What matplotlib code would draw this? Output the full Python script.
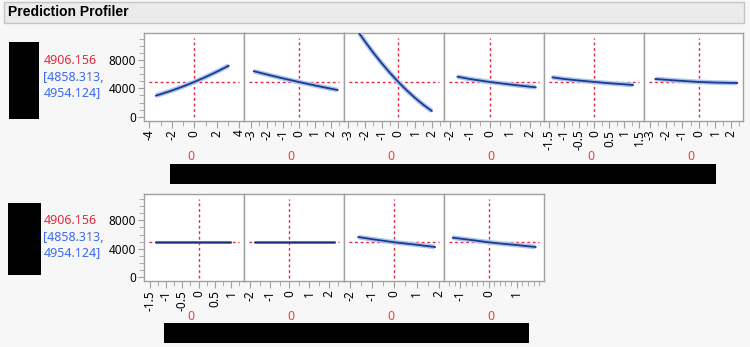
import matplotlib
matplotlib.use("Agg")
import matplotlib.pyplot as plt
from matplotlib.patches import Rectangle
from matplotlib.ticker import MultipleLocator, FixedLocator

plt.rcParams['font.family'] = ['Noto Sans', 'DejaVu Sans']

# readout of the predicted response and its interval
pred_value = "4906.156"
pred_ci = ["[4858.313,", "4954.124]"]
current_level = 4906.156
factor_settings = ["0", "0", "0", "0", "0", "0"]
factor_settings_2 = ["0", "0", "0", "0"]

# top row profiles (x, y)
top_x1 = [-3.4, -2, -1, 0, 1, 2, 3.05]
top_y1 = [2970, 3687, 4268, 4906, 5600, 6351, 7200]
top_x2 = [-2.8, -2, -1, 0, 1, 2, 2.43]
top_y2 = [6420, 5965, 5421, 4906, 4419, 3959, 3770]
top_x3 = [-2.5, -2, -1.5, -1, -0.5, 0, 0.5, 1, 1.5, 2]
top_y3 = [12337, 10646, 9057, 7571, 6187, 4906, 3727, 2651, 1676, 805]
top_x4 = [-1.6, -1, 0, 1, 2, 2.31]
top_y4 = [5650, 5330, 4906, 4560, 4240, 4150]
top_x5 = [-1.4, -1, -0.5, 0, 0.5, 1, 1.28]
top_y5 = [5560, 5320, 5100, 4906, 4720, 4570, 4480]
top_x6 = [-2.66, -2, -1, 0, 1, 2, 2.36]
top_y6 = [5330, 5210, 5050, 4906, 4820, 4770, 4760]

# bottom row profiles (x, y)
bot_x1 = [-1.34, 0, 1.0]
bot_y1 = [4906, 4906, 4906]
bot_x2 = [-1.81, 0, 2.33]
bot_y2 = [4906, 4906, 4906]
bot_x3 = [-1.61, -1, 0, 1, 1.82]
bot_y3 = [5650, 5350, 4906, 4560, 4240]
bot_x4 = [-1.27, -0.5, 0, 0.5, 1, 1.67]
bot_y4 = [5560, 5170, 4906, 4700, 4520, 4240]

# axis ranges / ticks per panel
top_xlims = [(-4.44, 4.44), (-3.4, 2.85), (-3.23, 2.75), (-2.26, 2.74), (-1.67, 1.66), (-3.34, 2.72)]
top_major = [[-4, -2, 0, 2, 4], [-3, -2, -1, 0, 1, 2], [-3, -2, -1, 0, 1, 2],
             [-2, -1, 0, 1, 2], [-1.5, -1, -0.5, 0, 0.5, 1, 1.5], [-3, -2, -1, 0, 1, 2]]
top_minor = [1, 0.5, 0.5, 0.5, 0.25, 0.5]
bot_xlims = [(-1.66, 1.40), (-2.30, 2.80), (-2.24, 2.24), (-1.57, 1.98)]
bot_major = [[-1.5, -1, -0.5, 0, 0.5, 1], [-2, -1, 0, 1, 2], [-2, -1, 0, 1, 2], [-1, 0, 1]]
bot_minor = [0.25, 0.5, 0.5, 0.2]
y_ticks = [0, 4000, 8000]
y_lim = (-570, 11780)

W, H = 750, 347
BG = "#f7f7f7"
GRID = "#a0a0a0"
RED = "#e8283c"
BLUE = "#3b6bf5"

fig = plt.figure(figsize=(W / 100, H / 100), dpi=100, facecolor=BG)


def px_rect(x0, y0, x1, y1, **kw):
    fig.patches.append(Rectangle((x0 / W, 1 - y1 / H), (x1 - x0) / W, (y1 - y0) / H,
                                 transform=fig.transFigure, figure=fig, **kw))


# title bar
px_rect(4, 2, 744, 23, facecolor="#ebebeb", edgecolor="#c4c4c4", linewidth=1)
fig.text(8 / W, 1 - 12.5 / H, "Prediction Profiler", fontsize=10, fontweight="bold",
         family=["Liberation Sans", "DejaVu Sans"], va="center", ha="left")


def profile(ax, xs, ys, xlim, major, minor, first, flat=False):
    ax.set_facecolor("white")
    if flat:
        ax.plot(xs, ys, color="#3566e0", lw=2.0, solid_capstyle="butt", zorder=3)
        ax.plot(xs, [v + 70 for v in ys], color="#1a2f7a", lw=0.7, zorder=4)
    else:
        ax.plot(xs, ys, color="#aac4f0", lw=3.4, solid_capstyle="butt", zorder=3)
        ax.plot(xs, ys, color="#1e3a8c", lw=1.3, zorder=4)
    ax.axhline(current_level, xmin=0.05, xmax=0.95, color=RED, lw=1, ls=(0, (2, 2)), zorder=2)
    ax.axvline(0, ymin=0.04, ymax=0.945, color=RED, lw=1, ls=(0, (2, 2)), zorder=2)
    ax.set_xlim(*xlim)
    ax.set_ylim(*y_lim)
    ax.xaxis.set_major_locator(FixedLocator(major))
    ax.xaxis.set_minor_locator(MultipleLocator(minor))
    ax.set_xticklabels([f"{v:g}" for v in major], rotation=90, fontsize=8.5)
    ax.yaxis.set_major_locator(FixedLocator(y_ticks))
    ax.yaxis.set_minor_locator(MultipleLocator(1000))
    if first:
        ax.set_yticklabels([str(v) for v in y_ticks], fontsize=8.5)
        ax.tick_params(axis="y", which="major", length=4.5, color=GRID, pad=1.5)
        ax.tick_params(axis="y", which="minor", length=3.5, color=GRID)
    else:
        ax.tick_params(axis="y", which="both", left=False, labelleft=False)
    ax.tick_params(axis="x", which="major", length=5, color=GRID, pad=1.5)
    ax.tick_params(axis="x", which="minor", length=3.5, color=GRID)
    for s in ax.spines.values():
        s.set_color(GRID)
        s.set_linewidth(1)


def row(edges, y_top, y_bot, data, xlims, majors, minors, labels, lab_y, flat_idx=()):
    for i, (xs, ys) in enumerate(data):
        x0, x1 = edges[i], edges[i + 1]
        ax = fig.add_axes([x0 / W, 1 - y_bot / H, (x1 - x0) / W, (y_bot - y_top) / H])
        profile(ax, xs, ys, xlims[i], majors[i], minors[i], i == 0, flat=i in flat_idx)
        fig.text(((x0 + x1) / 2 - 3) / W, 1 - lab_y / H, labels[i], color="#f0403c",
                 fontsize=9, ha="center", va="center")


top_data = [(top_x1, top_y1), (top_x2, top_y2), (top_x3, top_y3),
            (top_x4, top_y4), (top_x5, top_y5), (top_x6, top_y6)]
bot_data = [(bot_x1, bot_y1), (bot_x2, bot_y2), (bot_x3, bot_y3), (bot_x4, bot_y4)]

row([144.3, 244.3, 344.3, 444.3, 544.3, 644.3, 743], 33.3, 120.7, top_data,
    top_xlims, top_major, top_minor, factor_settings, 156.7)
row([144.3, 244.3, 344.3, 444.3, 544.3], 193.7, 281, bot_data,
    bot_xlims, bot_major, bot_minor, factor_settings_2, 316.7, flat_idx=(0, 1))

# readouts
for yy in (60.7, 220.7):
    fig.text(43.5 / W, 1 - yy / H, pred_value, color=RED, fontsize=9, va="center")
    fig.text(43.5 / W, 1 - (yy + 16.6) / H, pred_ci[0], color=BLUE, fontsize=9, va="center")
    fig.text(43.5 / W, 1 - (yy + 31.8) / H, pred_ci[1], color=BLUE, fontsize=9, va="center")

# redacted label blocks
px_rect(9, 42, 39, 119, facecolor="black", edgecolor="none")
px_rect(170, 164, 716, 184, facecolor="black", edgecolor="none")
px_rect(8, 203, 41, 275, facecolor="black", edgecolor="none")
px_rect(164, 323, 529, 343, facecolor="black", edgecolor="none")

fig.savefig("out.png", dpi=100, facecolor=BG)
